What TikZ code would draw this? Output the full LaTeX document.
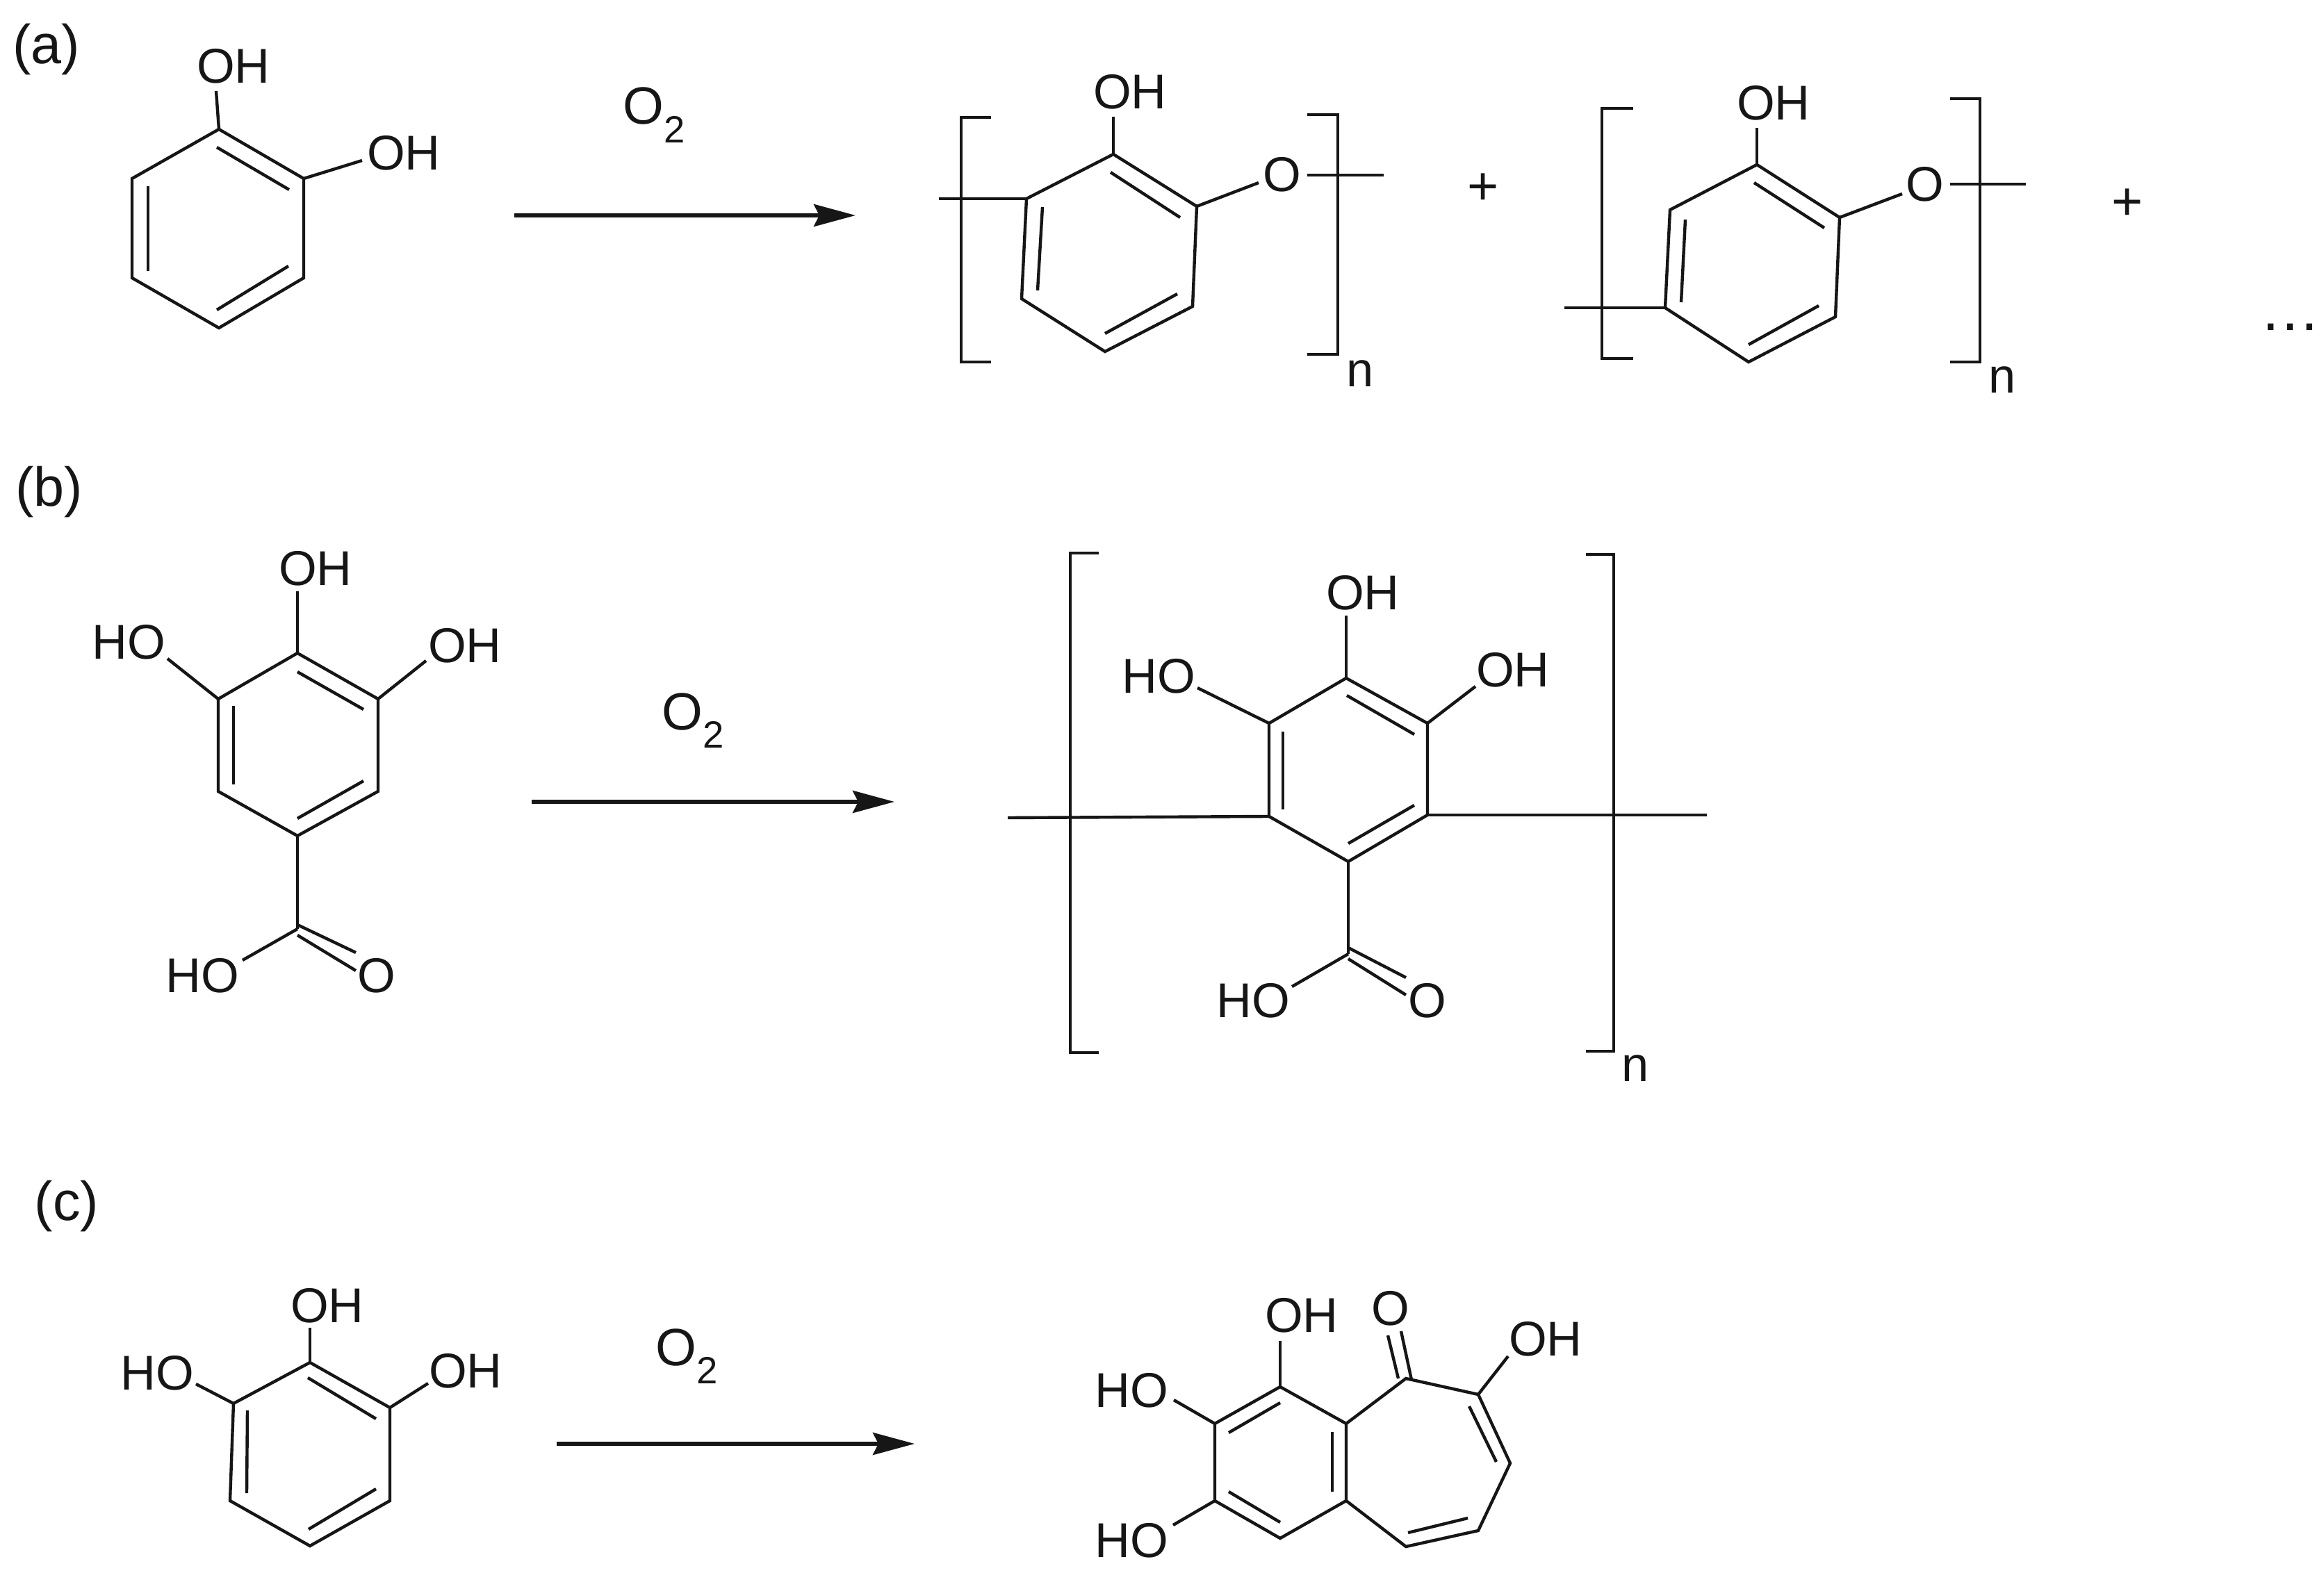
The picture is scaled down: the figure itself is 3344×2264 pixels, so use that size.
\documentclass[tikz,border=0pt]{standalone}
\usepackage{fontspec}
\setmainfont{Liberation Sans}
\usetikzlibrary{arrows.meta}
\definecolor{ink}{HTML}{161616}
\newcommand{\otwo}{O\raisebox{-7.6pt}{\fontsize{15.5}{16}\selectfont 2}}
\tikzset{
  bond/.style={draw=ink,line width=1.25pt,line join=miter,line cap=butt},
  rbond/.style={draw=ink,line width=1.4pt,line join=miter,line cap=butt},
  reaction/.style={draw=ink,line width=1.5pt,-{Stealth[length=0.6cm,width=0.32cm,inset=0.08cm]}},
  atomlabel/.style={text=ink,inner sep=0pt,yshift=-0.03cm,font=\fontsize{20}{20}\selectfont},
  panel/.style={text=ink,inner sep=0pt,yshift=-0.04cm,font=\fontsize{22.5}{24}\selectfont},
  sub/.style={text=ink,inner sep=0pt,yshift=-0.04cm,font=\fontsize{20}{20}\selectfont},
  reagent/.style={text=ink,inner sep=0pt,anchor=base west,font=\fontsize{21.5}{22}\selectfont},
  plussign/.style={text=ink,inner sep=0pt,yshift=-0.04cm,font=\fontsize{22}{22}\selectfont}
}
\begin{document}
\begin{tikzpicture}[x=0.01cm,y=-0.01cm]
\useasboundingbox[fill=white] (0,0) rectangle (3344,2264);

% ---------- (a) reactant
\node[panel] (la) at (67,67) {(a)};
\coordinate (a1) at (315,186); \coordinate (a2) at (437,257); \coordinate (a3) at (437,400);
\coordinate (a4) at (315,472); \coordinate (a5) at (190,400); \coordinate (a6) at (190,257);
\draw[bond] (a1)--(a2)--(a3)--(a4)--(a5)--(a6)--cycle;
\coordinate (ai1) at (312,212); \coordinate (ai2) at (416,273);
\coordinate (ai3) at (213,268); \coordinate (ai4) at (213,390);
\coordinate (ai5) at (415,383); \coordinate (ai6) at (312,446);
\draw[bond] (ai1)--(ai2); \draw[bond] (ai3)--(ai4); \draw[bond] (ai5)--(ai6);
\node[atomlabel] (aoh1) at (336,92) {OH};
\node[atomlabel] (aoh2) at (581,217) {OH};
\coordinate (ae1) at (311,131); \coordinate (ae2) at (521,231);
\draw[bond] (a1)--(ae1); \draw[bond] (a2)--(ae2);
\node[reagent] (ao2) at (896,179) {\otwo};
\coordinate (ar1) at (740,310); \coordinate (ar2) at (1231,310);
\draw[reaction] (ar1)--(ar2);

% ---------- (a) product 1
\coordinate (p1) at (1602,222); \coordinate (p2) at (1722,297); \coordinate (p3) at (1716,441);
\coordinate (p4) at (1590,506); \coordinate (p5) at (1470,430); \coordinate (p6) at (1477,286);
\draw[bond] (p1)--(p2)--(p3)--(p4)--(p5)--(p6)--cycle;
\coordinate (pi1) at (1598,248); \coordinate (pi2) at (1698,313);
\coordinate (pi3) at (1500,298); \coordinate (pi4) at (1493,418);
\coordinate (pi5) at (1694,423); \coordinate (pi6) at (1590,480);
\draw[bond] (pi1)--(pi2); \draw[bond] (pi3)--(pi4); \draw[bond] (pi5)--(pi6);
\node[atomlabel] (poh) at (1626,129) {OH};
\node[atomlabel] (po) at (1845,248) {O};
\coordinate (pe1) at (1602,168); \coordinate (pe2) at (1811,263);
\coordinate (pe3) at (1881,252); \coordinate (pe4) at (1991,252); \coordinate (pe5) at (1351,286);
\draw[bond] (p1)--(pe1); \draw[bond] (p2)--(pe2);
\draw[rbond] (pe3)--(pe4); \draw[rbond] (pe5)--(p6);
\coordinate (pbl1) at (1426,169); \coordinate (pbl2) at (1383,169); \coordinate (pbl3) at (1383,521); \coordinate (pbl4) at (1426,521);
\coordinate (pbr1) at (1881,165); \coordinate (pbr2) at (1925,165); \coordinate (pbr3) at (1925,510); \coordinate (pbr4) at (1881,510);
\draw[bond] (pbl1)--(pbl2)--(pbl3)--(pbl4);
\draw[bond] (pbr1)--(pbr2)--(pbr3)--(pbr4);
\node[sub] (pn) at (1957,534) {n};
\node[plussign] (plus1) at (2134,268) {+};

% ---------- (a) product 2
\coordinate (q1) at (2528,237); \coordinate (q2) at (2647,313); \coordinate (q3) at (2641,456);
\coordinate (q4) at (2516,521); \coordinate (q5) at (2396,443); \coordinate (q6) at (2403,302);
\draw[bond] (q1)--(q2)--(q3)--(q4)--(q5)--(q6)--cycle;
\coordinate (qi1) at (2524,263); \coordinate (qi2) at (2625,328);
\coordinate (qi3) at (2425,316); \coordinate (qi4) at (2419,435);
\coordinate (qi5) at (2617,440); \coordinate (qi6) at (2516,496);
\draw[bond] (qi1)--(qi2); \draw[bond] (qi3)--(qi4); \draw[bond] (qi5)--(qi6);
\node[atomlabel] (qoh) at (2552,145) {OH};
\node[atomlabel] (qo) at (2770,262) {O};
\coordinate (qe1) at (2528,184); \coordinate (qe2) at (2737,279);
\coordinate (qe3) at (2806,265); \coordinate (qe4) at (2915,265); \coordinate (qe5) at (2251,443);
\draw[bond] (q1)--(qe1); \draw[bond] (q2)--(qe2);
\draw[rbond] (qe3)--(qe4); \draw[rbond] (qe5)--(q5);
\coordinate (qbl1) at (2350,156); \coordinate (qbl2) at (2305,156); \coordinate (qbl3) at (2305,516); \coordinate (qbl4) at (2350,516);
\coordinate (qbr1) at (2806,142); \coordinate (qbr2) at (2849,142); \coordinate (qbr3) at (2849,521); \coordinate (qbr4) at (2806,521);
\draw[bond] (qbl1)--(qbl2)--(qbl3)--(qbl4);
\draw[bond] (qbr1)--(qbr2)--(qbr3)--(qbr4);
\node[sub] (qn) at (2881,543) {n};
\node[plussign] (plus2) at (3061,290) {+};
\node[text=ink,inner sep=0pt,anchor=base,font=\fontsize{25}{25}\selectfont] (dots) at (3295,476) {…};

% ---------- (b) reactant
\node[panel] (lb) at (71,704) {(b)};
\coordinate (b1) at (428,940); \coordinate (b2) at (544,1006); \coordinate (b3) at (544,1139);
\coordinate (b4) at (428,1203); \coordinate (b5) at (314,1139); \coordinate (b6) at (314,1006);
\draw[bond] (b1)--(b2)--(b3)--(b4)--(b5)--(b6)--cycle;
\coordinate (bi1) at (428,967); \coordinate (bi2) at (523,1021);
\coordinate (bi3) at (336,1016); \coordinate (bi4) at (336,1129);
\coordinate (bi5) at (523,1124); \coordinate (bi6) at (428,1178);
\draw[bond] (bi1)--(bi2); \draw[bond] (bi3)--(bi4); \draw[bond] (bi5)--(bi6);
\node[atomlabel] (boh1) at (454,815) {OH};
\node[atomlabel] (boh2) at (185,921) {HO};
\node[atomlabel] (boh3) at (669,926) {OH};
\node[atomlabel] (boh4) at (291,1401) {HO};
\node[atomlabel] (bo) at (542,1401) {O};
\coordinate (be1) at (428,851); \coordinate (be2) at (241,948); \coordinate (be3) at (613,951);
\coordinate (bc) at (428,1337); \coordinate (be4) at (349,1382);
\coordinate (bd1) at (428,1331); \coordinate (bd2) at (512,1371); \coordinate (bd3) at (428,1346); \coordinate (bd4) at (512,1397);
\draw[bond] (b1)--(be1); \draw[bond] (b6)--(be2); \draw[bond] (b2)--(be3);
\draw[bond] (b4)--(bc); \draw[bond] (bc)--(be4);
\draw[bond] (bd1)--(bd2); \draw[bond] (bd3)--(bd4);
\node[reagent] (bo2) at (952,1050) {\otwo};
\coordinate (br1) at (765,1154); \coordinate (br2) at (1287,1154);
\draw[reaction] (br1)--(br2);

% ---------- (b) product
\coordinate (r1) at (1937,976); \coordinate (r2) at (2054,1041); \coordinate (r3) at (2054,1173);
\coordinate (r4) at (1940,1240); \coordinate (r5) at (1826,1175); \coordinate (r6) at (1826,1041);
\draw[bond] (r1)--(r2)--(r3)--(r4)--(r5)--(r6)--cycle;
\coordinate (ri1) at (1938,1001); \coordinate (ri2) at (2035,1057);
\coordinate (ri3) at (1846,1053); \coordinate (ri4) at (1846,1165);
\coordinate (ri5) at (2035,1159); \coordinate (ri6) at (1940,1214);
\draw[bond] (ri1)--(ri2); \draw[bond] (ri3)--(ri4); \draw[bond] (ri5)--(ri6);
\node[atomlabel] (roh1) at (1961,850) {OH};
\node[atomlabel] (roh2) at (1667,970) {HO};
\node[atomlabel] (roh3) at (2177,961) {OH};
\node[atomlabel] (roh4) at (1803,1437) {HO};
\node[atomlabel] (ro) at (2054,1437) {O};
\coordinate (re1) at (1937,886); \coordinate (re2) at (1723,990); \coordinate (re3) at (2123,988);
\coordinate (rc) at (1940,1373); \coordinate (re4) at (1859,1420);
\coordinate (rd1) at (1940,1364); \coordinate (rd2) at (2023,1407); \coordinate (rd3) at (1940,1380); \coordinate (rd4) at (2023,1432);
\coordinate (re5) at (1450,1177); \coordinate (re6) at (2456,1173);
\draw[bond] (r1)--(re1); \draw[bond] (r6)--(re2); \draw[bond] (r2)--(re3);
\draw[bond] (r4)--(rc); \draw[bond] (rc)--(re4);
\draw[bond] (rd1)--(rd2); \draw[bond] (rd3)--(rd4);
\draw[bond] (re5)--(r5); \draw[bond] (r3)--(re6);
\coordinate (rbl1) at (1581,796); \coordinate (rbl2) at (1540,796); \coordinate (rbl3) at (1540,1515); \coordinate (rbl4) at (1581,1515);
\coordinate (rbr1) at (2282,798); \coordinate (rbr2) at (2322,798); \coordinate (rbr3) at (2322,1513); \coordinate (rbr4) at (2282,1513);
\draw[bond] (rbl1)--(rbl2)--(rbl3)--(rbl4);
\draw[bond] (rbr1)--(rbr2)--(rbr3)--(rbr4);
\node[sub] (rn) at (2353,1534) {n};

% ---------- (c) reactant
\node[panel] (lc) at (96,1732) {(c)};
\coordinate (c1) at (446,1961); \coordinate (c2) at (561,2026); \coordinate (c3) at (561,2160);
\coordinate (c4) at (446,2225); \coordinate (c5) at (331,2160); \coordinate (c6) at (336,2020);
\draw[bond] (c1)--(c2)--(c3)--(c4)--(c5)--(c6)--cycle;
\coordinate (ci1) at (443,1983); \coordinate (ci2) at (541,2042);
\coordinate (ci3) at (356,2030); \coordinate (ci4) at (355,2149);
\coordinate (ci5) at (541,2143); \coordinate (ci6) at (444,2201);
\draw[bond] (ci1)--(ci2); \draw[bond] (ci3)--(ci4); \draw[bond] (ci5)--(ci6);
\node[atomlabel] (coh1) at (471,1876) {OH};
\node[atomlabel] (coh2) at (226,1973) {HO};
\node[atomlabel] (coh3) at (670,1970) {OH};
\coordinate (ce1) at (446,1911); \coordinate (ce2) at (282,1992); \coordinate (ce3) at (616,1991);
\draw[bond] (c1)--(ce1); \draw[bond] (c6)--(ce2); \draw[bond] (c2)--(ce3);
\node[reagent] (co2) at (943,1965) {\otwo};
\coordinate (cr1) at (801,2078); \coordinate (cr2) at (1316,2078);
\draw[reaction] (cr1)--(cr2);

% ---------- (c) product
\coordinate (s1) at (1842,1996); \coordinate (s2) at (1748,2049); \coordinate (s3) at (1748,2160);
\coordinate (s4) at (1842,2214); \coordinate (s5) at (1937,2160); \coordinate (s6) at (1937,2049);
\coordinate (s7) at (2023,1984); \coordinate (s8) at (2127,2007); \coordinate (s9) at (2173,2106);
\coordinate (s10) at (2127,2203); \coordinate (s11) at (2023,2226);
\draw[bond] (s1)--(s2)--(s3)--(s4)--(s5)--(s6)--cycle;
\draw[bond] (s6)--(s7)--(s8)--(s9)--(s10)--(s11)--(s5);
\coordinate (si1) at (1842,2019); \coordinate (si2) at (1768,2062);
\coordinate (si3) at (1917,2061); \coordinate (si4) at (1917,2147);
\coordinate (si5) at (1768,2147); \coordinate (si6) at (1842,2191);
\coordinate (si7) at (2114,2024); \coordinate (si8) at (2153,2104);
\coordinate (si9) at (2112,2185); \coordinate (si10) at (2026,2206);
\draw[bond] (si1)--(si2); \draw[bond] (si3)--(si4); \draw[bond] (si5)--(si6);
\draw[bond] (si7)--(si8); \draw[bond] (si9)--(si10);
\coordinate (sd1) at (1997,1922); \coordinate (sd2) at (2012,1984);
\coordinate (sd3) at (2016,1916); \coordinate (sd4) at (2031,1986);
\draw[bond] (sd1)--(sd2); \draw[bond] (sd3)--(sd4);
\node[atomlabel] (so) at (2001,1880) {O};
\node[atomlabel] (soh1) at (1873,1890) {OH};
\node[atomlabel] (soh2) at (2224,1924) {OH};
\node[atomlabel] (soh3) at (1628,1998) {HO};
\node[atomlabel] (soh4) at (1628,2214) {HO};
\coordinate (se1) at (1842,1930); \coordinate (se2) at (2170,1952);
\coordinate (se3) at (1689,2015); \coordinate (se4) at (1688,2195);
\draw[bond] (s1)--(se1); \draw[bond] (s8)--(se2); \draw[bond] (s2)--(se3); \draw[bond] (s3)--(se4);
\end{tikzpicture}
\end{document}
